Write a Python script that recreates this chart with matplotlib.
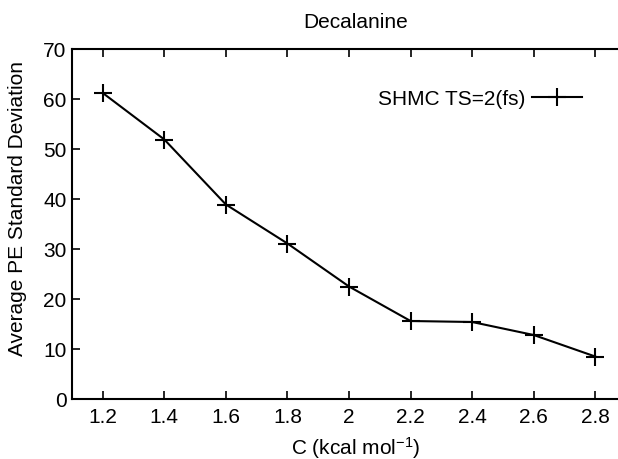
import numpy as np
import matplotlib
matplotlib.use("Agg")
import matplotlib.pyplot as plt

plt.rcParams['font.family'] = ['Liberation Sans', 'DejaVu Sans']
plt.rcParams['mathtext.fontset'] = 'custom'
plt.rcParams['mathtext.rm'] = 'Liberation Sans'
plt.rcParams['mathtext.it'] = 'Liberation Sans:italic'

# C values (kcal/mol) and average PE standard deviation
c_vals = [1.2, 1.4, 1.6, 1.8, 2.0, 2.2, 2.4, 2.6, 2.8]
pe_std = [61.2, 51.9, 38.9, 31.1, 22.5, 15.6, 15.4, 12.8, 8.5]
x_ticks = [1.2, 1.4, 1.6, 1.8, 2.0, 2.2, 2.4, 2.6, 2.8]
x_labels = ["1.2", "1.4", "1.6", "1.8", "2", "2.2", "2.4", "2.6", "2.8"]
y_ticks = [0, 10, 20, 30, 40, 50, 60, 70]

W, H = 618, 460
FS = 15
fig = plt.figure(figsize=(W / 100, H / 100), dpi=100)
ax = fig.add_axes([72 / W, 60 / H, (626 - 72) / W, (400 - 50) / H])

ax.plot(c_vals, pe_std, color='black', lw=1.5, marker='+', ms=13, mew=1.5,
        label='SHMC TS=2(fs)')

ax.set_xlim(1.1, 2.9)
ax.set_ylim(0, 70)
ax.set_xticks(x_ticks)
ax.set_xticklabels(x_labels)
ax.set_yticks(y_ticks)
ax.tick_params(direction='in', length=5.5, width=1.2, top=True, right=True,
               labelsize=FS, colors='black')
ax.tick_params(axis='x', pad=6)
ax.tick_params(axis='y', pad=4)
for sp in ax.spines.values():
    sp.set_linewidth(1.5)

ax.legend(loc='center right', bbox_to_anchor=(582 / W, 1 - 99.5 / H),
          bbox_transform=fig.transFigure, frameon=False, markerfirst=False,
          handlelength=2.4, handletextpad=0.3, borderpad=0, borderaxespad=0,
          fontsize=FS)

fig.text(356 / W, 1 - 22 / H, 'Decalanine', ha='center', va='center', fontsize=FS)
fig.text(356 / W, 1 - 448 / H, 'C (kcal mol$^{-1}$)', ha='center', va='center',
         fontsize=FS)
fig.text(18 / W, 1 - 208 / H, 'Average PE Standard Deviation', ha='center',
         va='center', rotation=90, fontsize=FS)

fig.savefig('out.png', dpi=100)
